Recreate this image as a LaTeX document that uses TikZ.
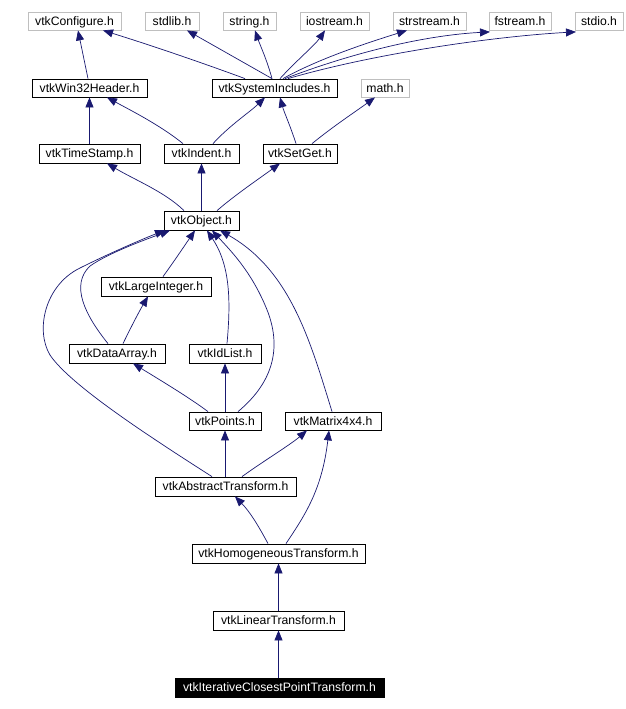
\documentclass[tikz,border=0pt]{standalone}
\usepackage{fontspec}
\setmainfont{Liberation Sans}
\usetikzlibrary{arrows.meta}
\definecolor{edgec}{HTML}{191970}
\definecolor{greyb}{HTML}{BFBFBF}
\tikzset{
  box/.style={draw=black, line width=0.8pt, inner sep=0pt, font=\fontsize{12.2}{14}\selectfont, text height=8.7pt, text depth=0pt, anchor=center},
  gbox/.style={box, draw=greyb},
  rootbox/.style={box, fill=black, text=white},
  edge/.style={draw=edgec, line width=0.7pt, -{Triangle[length=10pt,width=8pt]}},
}
\begin{document}
\begin{tikzpicture}[x=1pt,y=-1pt]
\useasboundingbox (0,0) rectangle (625,709);
% top row
\node[gbox, minimum width=93pt, minimum height=18pt] (conf) at (74.5,21) {vtkConfigure.h};
\node[gbox, minimum width=54pt, minimum height=18pt] (stdlib) at (172,21) {stdlib.h};
\node[gbox, minimum width=53pt, minimum height=18pt] (string) at (249.5,21) {string.h};
\node[gbox, minimum width=69pt, minimum height=18pt] (iostream) at (334.5,21) {iostream.h};
\node[gbox, minimum width=73pt, minimum height=18pt] (strstream) at (429.5,21) {strstream.h};
\node[gbox, minimum width=62pt, minimum height=18pt] (fstream) at (520,21) {fstream.h};
\node[gbox, minimum width=48pt, minimum height=18pt] (stdio) at (599,21) {stdio.h};
% row 2
\node[box, minimum width=115pt, minimum height=18pt] (win) at (89.5,88) {vtkWin32Header.h};
\node[box, minimum width=125pt, minimum height=18pt] (sys) at (274.5,88) {vtkSystemIncludes.h};
\node[gbox, minimum width=48pt, minimum height=18pt] (math) at (385,88) {math.h};
% row 3
\node[box, minimum width=101pt, minimum height=19pt] (time) at (89.5,153.5) {vtkTimeStamp.h};
\node[box, minimum width=75pt, minimum height=19pt] (indent) at (201.5,153.5) {vtkIndent.h};
\node[box, minimum width=74pt, minimum height=19pt] (setget) at (300,153.5) {vtkSetGet.h};
% rest
\node[box, minimum width=75pt, minimum height=19pt] (obj) at (201.5,220.5) {vtkObject.h};
\node[box, minimum width=110pt, minimum height=19pt] (large) at (156,286.5) {vtkLargeInteger.h};
\node[box, minimum width=96pt, minimum height=19pt] (data) at (117,353.5) {vtkDataArray.h};
\node[box, minimum width=72pt, minimum height=19pt] (idlist) at (225,353.5) {vtkIdList.h};
\node[box, minimum width=72pt, minimum height=18pt] (points) at (225,421) {vtkPoints.h};
\node[box, minimum width=96pt, minimum height=18pt] (matrix) at (333,421) {vtkMatrix4x4.h};
\node[box, minimum width=141pt, minimum height=19pt] (abstract) at (225.5,486.5) {vtkAbstractTransform.h};
\node[box, minimum width=173pt, minimum height=19pt] (homog) at (278.5,553.5) {vtkHomogeneousTransform.h};
\node[box, minimum width=131pt, minimum height=19pt] (linear) at (278.5,620.5) {vtkLinearTransform.h};
\node[rootbox, minimum width=209pt, minimum height=19pt] (icp) at (279.5,687.5) {vtkIterativeClosestPointTransform.h};
% edges
\draw[edge] ([xshift=-1.5pt]win.north) -- ([xshift=3.5pt]conf.south);
\draw[edge] ([xshift=-29.5pt]sys.north) .. controls (200,62) and (150,45) .. ([xshift=28.5pt]conf.south);
\draw[edge] ([xshift=-2.5pt]sys.north) -- ([xshift=15pt]stdlib.south);
\draw[edge] ([xshift=-2.5pt]sys.north) .. controls (267,60) and (260,45) .. ([xshift=5.5pt]string.south);
\draw[edge] ([xshift=5.5pt]sys.north) .. controls (295,62) and (315,45) .. ([xshift=-9.5pt]iostream.south);
\draw[edge] ([xshift=8.5pt]sys.north) .. controls (320,58) and (370,42) .. ([xshift=-22.5pt]strstream.south);
\draw[edge] ([xshift=10.5pt]sys.north) .. controls (360,50) and (430,35) .. ([xshift=-30pt,yshift=-1.5pt]fstream.south);
\draw[edge] ([xshift=13.5pt]sys.north) .. controls (380,52) and (500,36) .. ([xshift=-23pt,yshift=-1.5pt]stdio.south);
\draw[edge] (time.north) -- (win.south);
\draw[edge] ([xshift=-18.5pt]indent.north) .. controls (160,125) and (130,110) .. ([xshift=17.5pt]win.south);
\draw[edge] ([xshift=11.5pt]indent.north) .. controls (230,125) and (250,112) .. ([xshift=-9.5pt]sys.south);
\draw[edge] ([xshift=-4pt]setget.north) .. controls (290,125) and (284,112) .. ([xshift=5.5pt]sys.south);
\draw[edge] ([xshift=12pt]setget.north) .. controls (335,125) and (355,112) .. ([xshift=-10pt]math.south);
\draw[edge] ([xshift=-17.5pt]obj.north) .. controls (165,192) and (135,180) .. ([xshift=17.5pt]time.south);
\draw[edge] (obj.north) -- (indent.south);
\draw[edge] ([xshift=15.5pt]obj.north) .. controls (235,195) and (260,178) .. ([xshift=-20pt]setget.south);
\draw[edge] ([xshift=7pt]large.north) .. controls (175,260) and (185,245) .. ([xshift=-6.5pt]obj.south);
\draw[edge] ([xshift=-9pt]data.north) .. controls (85,315) and (70,285) .. (90,266) .. controls (110,252) and (150,238) .. ([xshift=-31.5pt]obj.south);
\draw[edge] ([xshift=-13.5pt]abstract.north) .. controls (150,437) and (70,385) .. (50,355) .. controls (35,330) and (45,285) .. (80,268) .. controls (110,253) and (145,238) .. ([xshift=-36.5pt]obj.south);
\draw[edge] ([xshift=6pt]data.north) .. controls (132,325) and (140,310) .. ([xshift=-8pt]large.south);
\draw[edge] ([xshift=2pt]idlist.north) .. controls (231,300) and (230,265) .. ([xshift=5.5pt]obj.south);
\draw[edge] ([xshift=13pt]points.north) .. controls (270,385) and (285,350) .. (265,305) .. controls (250,270) and (230,250) .. ([xshift=10.5pt]obj.south);
\draw[edge] ([xshift=-17pt]points.north) .. controls (190,398) and (160,380) .. ([xshift=16pt]data.south);
\draw[edge] (points.north) -- (idlist.south);
\draw[edge] ([xshift=-1pt]matrix.north) .. controls (310,340) and (290,270) .. ([xshift=18.5pt]obj.south);
\draw[edge] ([xshift=-0.5pt]abstract.north) -- (points.south);
\draw[edge] ([xshift=16.5pt]abstract.north) .. controls (265,460) and (290,445) .. ([xshift=-26pt]matrix.south);
\draw[edge] ([xshift=-10.5pt]homog.north) .. controls (258,525) and (250,512) .. ([xshift=9.5pt]abstract.south);
\draw[edge] ([xshift=7.5pt]homog.north) .. controls (305,515) and (322,490) .. ([xshift=-4pt]matrix.south);
\draw[edge] (linear.north) -- (homog.south);
\draw[edge] ([xshift=-1pt]icp.north) -- (linear.south);
\end{tikzpicture}
\end{document}
